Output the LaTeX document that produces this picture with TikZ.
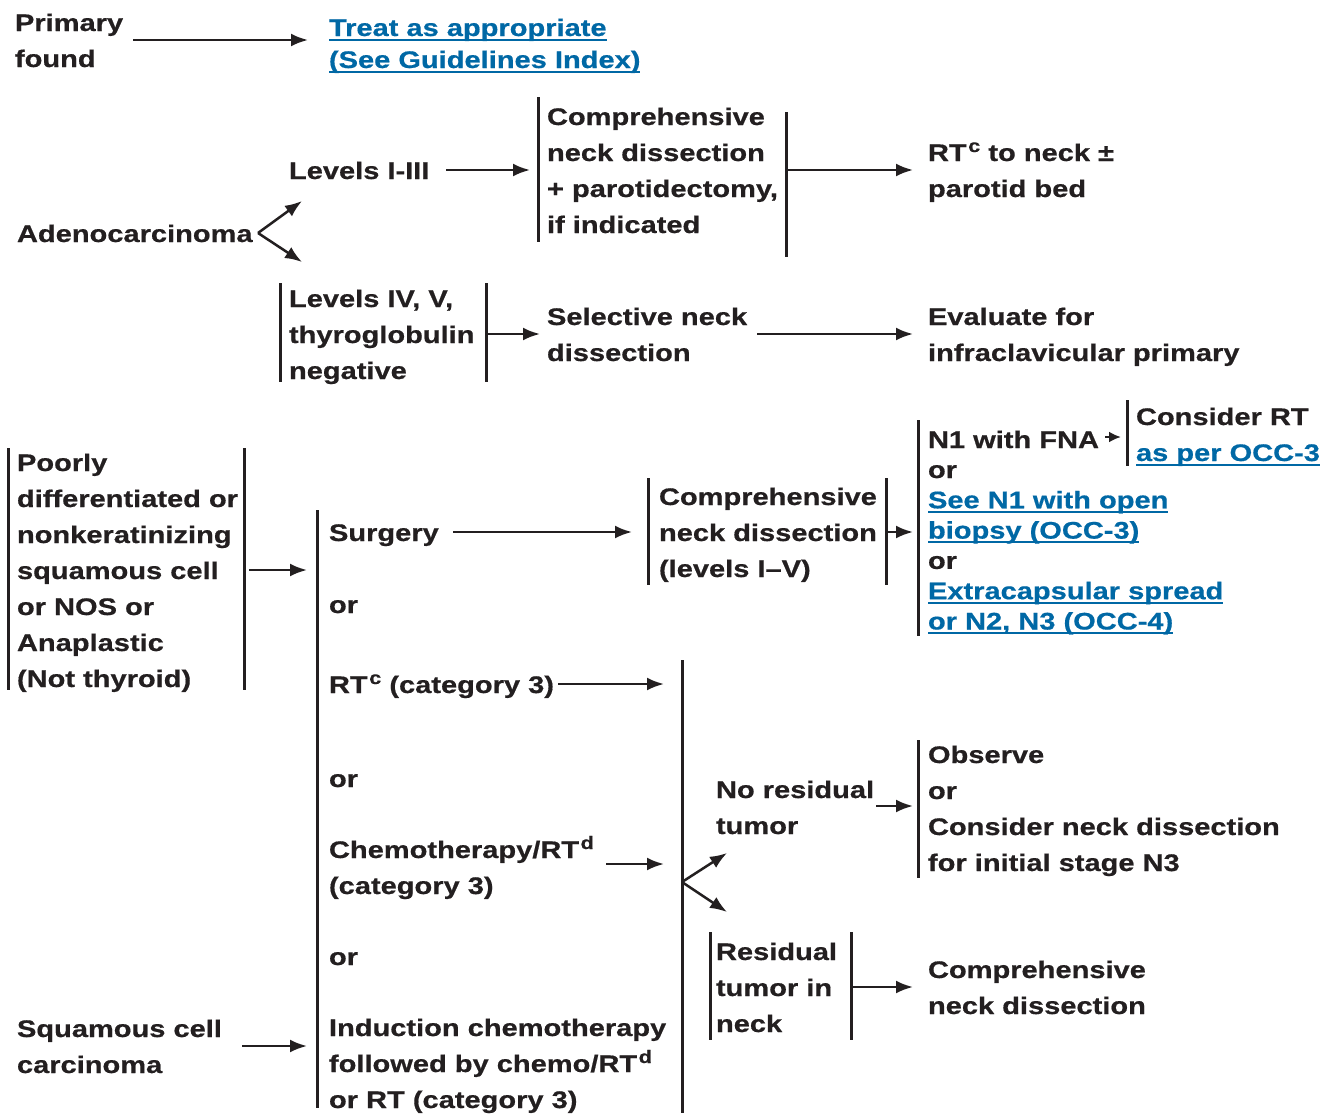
\documentclass[tikz,border=0pt]{standalone}
\usepackage{fontspec}
\setmainfont{Liberation Sans}[FakeStretch=1.21, BoldFeatures={FakeBold=0.6}]
\usetikzlibrary{arrows.meta}
\definecolor{ink}{RGB}{35,31,32}
\definecolor{linkblue}{RGB}{0,104,165}
% underlined link text
\newcommand\lnk[1]{\leavevmode\setbox0=\hbox{#1}\rlap{\rule[-4.5pt]{\wd0}{2pt}}\box0}
% small raised note letter
\newcommand\note[1]{\kern1.5pt\raisebox{9pt}{\fontsize{18}{18}\selectfont #1}}
\newcommand\lblfont{\fontsize{24}{36}\selectfont\bfseries}
% text nodes are anchored at the baseline of their last line
\tikzset{
  txt/.style={anchor=base west, inner sep=0pt, outer sep=0pt, align=left, text=ink, font=\lblfont},
  tight/.style={font=\fontsize{24}{30.3}\selectfont\bfseries},
  link/.style={text=linkblue},
  arr/.style={draw=ink, line width=2.5pt, -{Latex[length=17pt,width=13pt]}},
  bar/.style={draw=ink, line width=3pt}
}
\begin{document}
\begin{tikzpicture}[x=1pt, y=-1pt]
\fill[white] (0,0) rectangle (1331,1119);
\useasboundingbox (0,0) rectangle (1331,1119);

% ---- primary found ----
\node[txt] (prim) at (15,67) {Primary\\found};
\node[txt, link, font=\fontsize{24}{32}\selectfont\bfseries] (treat) at (329,68) {\lnk{Treat as appropriate}\\\lnk{(See Guidelines Index)}};
\coordinate (prim-o) at (133,40);
\coordinate (treat-i) at (308,40);
\draw[arr] (prim-o) -- (treat-i);

% ---- adenocarcinoma ----
\node[txt] (adeno) at (17,242) {Adenocarcinoma};
\coordinate (adeno-o) at (258,233);
\coordinate (lev13-i) at (302,201);
\coordinate (lev45-i) at (302,262);
\draw[arr] (adeno-o) -- (lev13-i);
\draw[arr] (adeno-o) -- (lev45-i);

\node[txt] (lev13) at (289,179) {Levels I-III};
\coordinate (lev13-o) at (446,170);
\coordinate (cnd-i) at (530,170);
\draw[arr] (lev13-o) -- (cnd-i);
\draw[bar] (538,97) -- (538,242);
\node[txt] (cnd) at (547,233) {Comprehensive\\neck dissection\\+ parotidectomy,\\if indicated};
\draw[bar] (786,112) -- (786,257);
\coordinate (cnd-o) at (786,170);
\coordinate (rtc-i) at (913,170);
\draw[arr] (cnd-o) -- (rtc-i);
\node[txt] (rtc) at (928,197) {RT\note{c} to neck ±\\parotid bed};

\draw[bar] (280,283) -- (280,382);
\node[txt] (lev45) at (289,379) {Levels IV, V,\\thyroglobulin\\negative};
\draw[bar] (486,283) -- (486,382);
\coordinate (lev45-o) at (486,334);
\coordinate (sel-i) at (540,334);
\draw[arr] (lev45-o) -- (sel-i);
\node[txt] (sel) at (547,361) {Selective neck\\dissection};
\coordinate (sel-o) at (757,334);
\coordinate (eval-i) at (913,334);
\draw[arr] (sel-o) -- (eval-i);
\node[txt] (eval) at (928,361) {Evaluate for\\infraclavicular primary};

% ---- poorly differentiated ----
\draw[bar] (8,448) -- (8,690);
\node[txt] (poor) at (17,687) {Poorly\\differentiated or\\nonkeratinizing\\squamous cell\\or NOS or\\Anaplastic\\(Not thyroid)};
\draw[bar] (244,448) -- (244,690);
\coordinate (poor-o) at (249,570);
\coordinate (tx-i1) at (307,570);
\draw[arr] (poor-o) -- (tx-i1);

% ---- squamous cell ----
\node[txt] (squam) at (17,1073) {Squamous cell\\carcinoma};
\coordinate (squam-o) at (242,1046);
\coordinate (tx-i2) at (307,1046);
\draw[arr] (squam-o) -- (tx-i2);

% ---- treatment options ----
\draw[bar] (317,510) -- (317,1108);
\node[txt] (surg) at (329,541) {Surgery};
\node[txt] (or1) at (329,613) {or};
\node[txt] (rt3) at (329,693) {RT\note{c} (category 3)};
\node[txt] (or2) at (329,787) {or};
\node[txt] (chemo) at (329,894) {Chemotherapy/RT\note{d}\\(category 3)};
\node[txt] (or3) at (329,965) {or};
\node[txt] (induct) at (329,1108) {Induction chemotherapy\\followed by chemo/RT\note{d}\\or RT (category 3)};

\coordinate (surg-o) at (453,532);
\coordinate (cnd2-i) at (632,532);
\draw[arr] (surg-o) -- (cnd2-i);
\draw[bar] (648,478) -- (648,585);
\node[txt] (cnd2) at (659,577) {Comprehensive\\neck dissection\\(levels I--V)};
\draw[bar] (886,478) -- (886,585);
\coordinate (cnd2-o) at (886,532);
\coordinate (n1-i) at (913,532);
\draw[arr] (cnd2-o) -- (n1-i);

\draw[bar] (918,420) -- (918,636);
\node[txt] (n1) at (928,448) {N1 with FNA};
\node[txt, tight] (n1alt) at (928,629.5) {or\\\textcolor{linkblue}{\lnk{See N1 with open}}\\\textcolor{linkblue}{\lnk{biopsy (OCC-3)}}\\or\\\textcolor{linkblue}{\lnk{Extracapsular spread}}\\\textcolor{linkblue}{\lnk{or N2, N3 (OCC-4)}}};
\coordinate (n1-o) at (1105,437);
\coordinate (crt-i) at (1121,437);
\draw[arr, -{Latex[length=12pt,width=11pt]}] (n1-o) -- (crt-i);
\draw[bar] (1127,400) -- (1127,466);
\node[txt] (crt) at (1136,461) {Consider RT\\\textcolor{linkblue}{\lnk{as per OCC-3}}};

% ---- non-surgical branch ----
\coordinate (rt3-o) at (558,684);
\coordinate (resp-i1) at (664,684);
\draw[arr] (rt3-o) -- (resp-i1);
\coordinate (chemo-o) at (606,864);
\coordinate (resp-i2) at (664,864);
\draw[arr] (chemo-o) -- (resp-i2);
\draw[bar] (682,660) -- (682,1113);
\coordinate (resp-o) at (682,882);
\coordinate (nores-i) at (727,853);
\coordinate (resid-i) at (727,912);
\draw[arr] (resp-o) -- (nores-i);
\draw[arr] (resp-o) -- (resid-i);

\node[txt] (nores) at (716,834) {No residual\\tumor};
\coordinate (nores-o) at (876,806);
\coordinate (obs-i) at (913,806);
\draw[arr] (nores-o) -- (obs-i);
\draw[bar] (918,740) -- (918,878);
\node[txt] (obs) at (928,871) {Observe\\or\\Consider neck dissection\\for initial stage N3};

\draw[bar] (710,932) -- (710,1040);
\node[txt] (resid) at (716,1032) {Residual\\tumor in\\neck};
\draw[bar] (851,932) -- (851,1040);
\coordinate (resid-o) at (851,987);
\coordinate (cnd3-i) at (913,987);
\draw[arr] (resid-o) -- (cnd3-i);
\node[txt] (cnd3) at (928,1014) {Comprehensive\\neck dissection};
\end{tikzpicture}
\end{document}
